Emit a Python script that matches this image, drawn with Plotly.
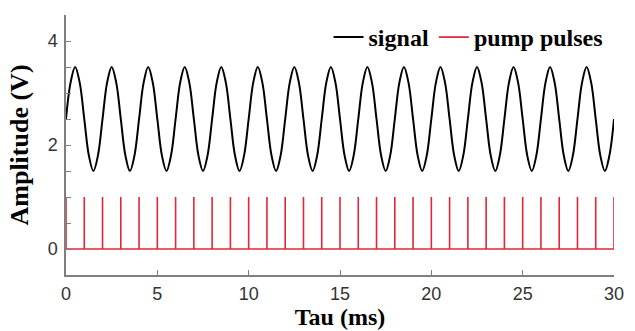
import numpy as np
import plotly.graph_objects as go

# ---- data ----
tau_step = 0.25  # sampling step (ms) of the read-off signal values
signal_values = [
    2.5, 3.2, 3.5, 3.2, 2.5, 1.8, 1.5, 1.8,
    2.5, 3.2, 3.5, 3.2, 2.5, 1.8, 1.5, 1.8,
    2.5, 3.2, 3.5, 3.2, 2.5, 1.8, 1.5, 1.8,
    2.5, 3.2, 3.5, 3.2, 2.5, 1.8, 1.5, 1.8,
    2.5, 3.2, 3.5, 3.2, 2.5, 1.8, 1.5, 1.8,
    2.5, 3.2, 3.5, 3.2, 2.5, 1.8, 1.5, 1.8,
    2.5, 3.2, 3.5, 3.2, 2.5, 1.8, 1.5, 1.8,
    2.5, 3.2, 3.5, 3.2, 2.5, 1.8, 1.5, 1.8,
    2.5, 3.2, 3.5, 3.2, 2.5, 1.8, 1.5, 1.8,
    2.5, 3.2, 3.5, 3.2, 2.5, 1.8, 1.5, 1.8,
    2.5, 3.2, 3.5, 3.2, 2.5, 1.8, 1.5, 1.8,
    2.5, 3.2, 3.5, 3.2, 2.5, 1.8, 1.5, 1.8,
    2.5, 3.2, 3.5, 3.2, 2.5, 1.8, 1.5, 1.8,
    2.5, 3.2, 3.5, 3.2, 2.5, 1.8, 1.5, 1.8,
    2.5, 3.2, 3.5, 3.2, 2.5, 1.8, 1.5, 1.8,
    2.5,
]
signal_tau = [i * tau_step for i in range(len(signal_values))]

pulse_times = [0, 1, 2, 3, 4, 5, 6, 7, 8, 9, 10, 11, 12, 13, 14, 15,
               16, 17, 18, 19, 20, 21, 22, 23, 24, 25, 26, 27, 28, 29, 30]
pulse_height = 1.0

x_ticks = [0, 5, 10, 15, 20, 25, 30]
y_ticks = [0, 2, 4]

# ---- build pulse train path from pulse data ----
px, py = [], []
for t in pulse_times:
    px += [t, t, t]
    py += [0, pulse_height, 0]

RED = "#e0283a"
AXIS = "#7f7f7f"
SERIF = "Liberation Serif, Times New Roman, serif"
SANS = "Liberation Sans, Arial, sans-serif"

fig = go.Figure()
fig.add_trace(go.Scatter(
    x=signal_tau, y=signal_values, mode="lines", name="signal",
    line=dict(color="black", width=2, shape="spline", smoothing=1.0),
))
fig.add_trace(go.Scatter(
    x=px, y=py, mode="lines", name="pump pulses",
    line=dict(color=RED, width=1.6),
))

fig.update_layout(
    width=635, height=331,
    margin=dict(l=66, r=21, t=15, b=56, autoexpand=False),
    paper_bgcolor="white", plot_bgcolor="white",
    showlegend=True,
    legend=dict(
        orientation="h", x=0.99, xanchor="right", y=1.0, yanchor="top",
        font=dict(family=SERIF, size=24, color="black", weight="bold"),
        bgcolor="rgba(0,0,0,0)", itemwidth=30, tracegroupgap=0,
    ),
    xaxis=dict(
        range=[0, 30], tickvals=x_ticks, ticks="inside", ticklen=5,
        tickcolor=AXIS, tickwidth=1.2, automargin=False,
        showline=True, linecolor=AXIS, linewidth=1.5, showgrid=False,
        zeroline=False, ticklabelstandoff=2,
        tickfont=dict(family=SANS, size=18, color="#333333"),
        title=dict(text="<b>Tau (ms)</b>", standoff=4,
                   font=dict(family=SERIF, size=24, color="black")),
    ),
    yaxis=dict(
        range=[-0.5, 4.5], tickvals=y_ticks, ticks="inside", ticklen=5,
        tickcolor=AXIS, tickwidth=1.2, automargin=False,
        minor=dict(dtick=0.5, ticks="inside", ticklen=5, tickcolor=AXIS,
                   tickwidth=1.2, showgrid=False),
        showline=True, linecolor=AXIS, linewidth=1.5, showgrid=False,
        zeroline=False, ticklabelstandoff=3,
        tickfont=dict(family=SANS, size=18, color="#333333"),
        title=dict(text="<b>Amplitude (V)</b>", standoff=12,
                   font=dict(family=SERIF, size=26, color="black")),
    ),
)

fig.write_html("out.html")
